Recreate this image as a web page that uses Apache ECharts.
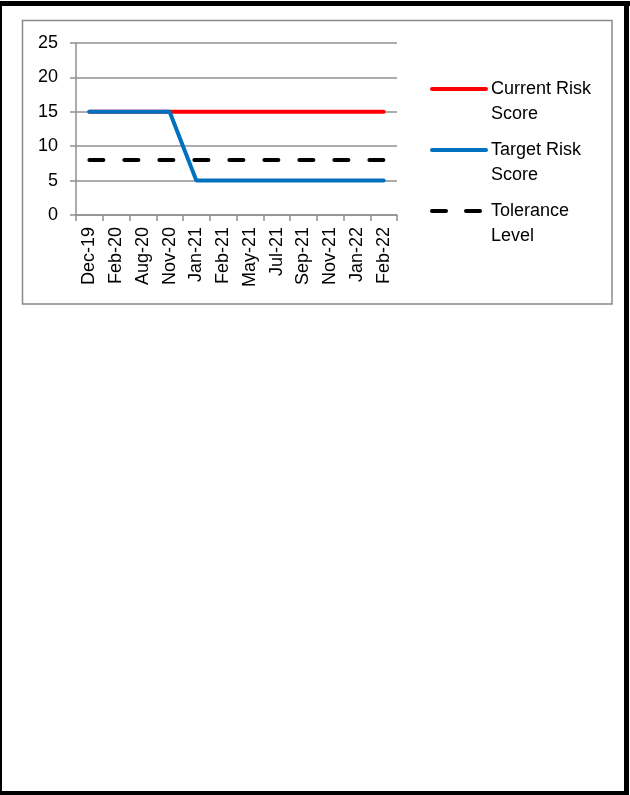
<!DOCTYPE html>
<html>
<head>
<meta charset="utf-8">
<style>
  html, body { margin: 0; padding: 0; background: #fff; }
  #main { width: 630px; height: 795px; }
</style>
<script src="https://cdn.jsdelivr.net/npm/echarts@6/dist/echarts.min.js"></script>
</head>
<body>
<div id="main"></div>
<script>
// data
var months = ['Dec-19', 'Feb-20', 'Aug-20', 'Nov-20', 'Jan-21', 'Feb-21', 'May-21', 'Jul-21', 'Sep-21', 'Nov-21', 'Jan-22', 'Feb-22'];
var currentRisk = [15, 15, 15, 15, 15, 15, 15, 15, 15, 15, 15, 15];
var targetRisk = [15, 15, 15, 15, 5, 5, 5, 5, 5, 5, 5, 5];
var tolerance = [8, 8, 8, 8, 8, 8, 8, 8, 8, 8, 8, 8];
var yTicks = [0, 5, 10, 15, 20, 25];

var myChart = echarts.init(document.getElementById('main'));
var font = 'Liberation Sans';
var grey = '#909090';

// one legend per series so the icon sits level with the first text line
function legendFor(name, label, centerY, dash) {
    return {
        data: [name],
        left: 430,
        top: centerY - 37.5,
        padding: 0,
        itemWidth: 54,
        itemHeight: 14,
        selectedMode: false,
        itemStyle: { opacity: 0 },
        lineStyle: { width: 4, cap: 'round', type: dash || 'solid' },
        formatter: function () { return '\n' + label; },
        textStyle: { fontFamily: font, fontSize: 18, color: '#000', lineHeight: 25 }
    };
}

var option = {
    animation: false,
    backgroundColor: '#fff',
    graphic: [
        // page frame
        { type: 'rect', shape: { x: 0, y: 1, width: 630, height: 5 }, style: { fill: '#000' } },
        { type: 'rect', shape: { x: 0, y: 1, width: 2, height: 794 }, style: { fill: '#000' } },
        { type: 'rect', shape: { x: 624, y: 1, width: 5, height: 794 }, style: { fill: '#000' } },
        { type: 'rect', shape: { x: 0, y: 791, width: 629, height: 4 }, style: { fill: '#000' } },
        // chart box
        { type: 'rect', shape: { x: 22.5, y: 20.5, width: 589.5, height: 283.5 },
          style: { fill: 'none', stroke: '#8a8a8a', lineWidth: 1.5 } }
    ],
    legend: [
        legendFor('Current Risk Score', 'Current Risk\nScore', 89),
        legendFor('Target Risk Score', 'Target Risk\nScore', 150),
        legendFor('Tolerance Level', 'Tolerance\nLevel', 211, [14, 20])
    ],
    grid: { left: 76, right: 233, top: 43, bottom: 580, containLabel: false },
    xAxis: {
        type: 'category',
        data: months,
        boundaryGap: true,
        axisLine: { lineStyle: { color: grey, width: 1.5 } },
        axisTick: { show: true, length: 6, lineStyle: { color: grey, width: 1.5 } },
        axisLabel: { interval: 0, rotate: 90, margin: 12, fontFamily: font, fontSize: 18, color: '#000' }
    },
    yAxis: {
        type: 'value',
        min: yTicks[0],
        max: yTicks[yTicks.length - 1],
        interval: 5,
        axisLine: { show: true, lineStyle: { color: grey, width: 1.5 } },
        axisTick: { show: true, length: 6, lineStyle: { color: grey, width: 1.5 } },
        splitLine: { lineStyle: { color: grey, width: 1.5 } },
        axisLabel: { margin: 18, fontFamily: font, fontSize: 18, color: '#000' }
    },
    series: [
        {
            name: 'Current Risk Score',
            type: 'line',
            data: currentRisk,
            symbol: 'none',
            color: '#ff0000',
            lineStyle: { color: '#ff0000', width: 4, cap: 'round' }
        },
        {
            name: 'Target Risk Score',
            type: 'line',
            data: targetRisk,
            symbol: 'none',
            color: '#0070c0',
            lineStyle: { color: '#0070c0', width: 4, cap: 'round' }
        },
        {
            name: 'Tolerance Level',
            type: 'line',
            data: tolerance,
            symbol: 'none',
            color: '#000',
            lineStyle: { color: '#000', width: 4, type: [14, 21], cap: 'round' }
        }
    ]
};

myChart.setOption(option);
</script>
</body>
</html>
